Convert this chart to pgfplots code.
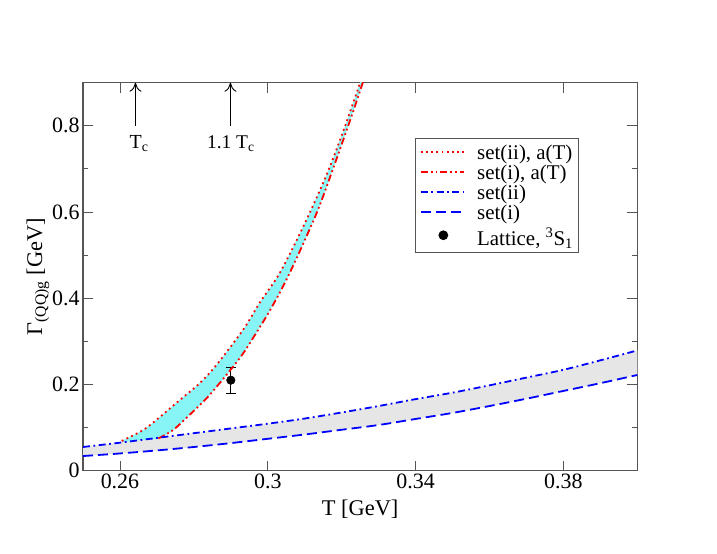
\documentclass[border=0pt]{standalone}
\usepackage{fontspec}
\setmainfont{Liberation Serif}
\usepackage{pgfplots}
\usepackage{pgfplotstable}
\pgfplotsset{compat=1.18}
\usepgfplotslibrary{fillbetween}
\usetikzlibrary{arrows.meta}
\definecolor{cyanfill}{RGB}{135,245,245}
\definecolor{grayfill}{RGB}{230,230,230}
\definecolor{axgray}{RGB}{85,85,85}
\newcommand{\st}{\rule[-5.5bp]{0pt}{21bp}}

\pgfplotstableread{
x y
0.2605 0.069
0.2663 0.0945
0.2710 0.126
0.2762 0.164
0.2816 0.203
0.2861 0.245
0.2933 0.3265
0.2980 0.392
0.3032 0.458
0.3096 0.566
0.3159 0.686
0.3204 0.787
0.3250 0.900
0.3260 0.925
}\upperred

\pgfplotstableread{
x y
0.2704 0.075
0.2744 0.0945
0.2789 0.130
0.2843 0.176
0.2924 0.261
0.2969 0.320
0.3010 0.378
0.3059 0.458
0.3130 0.593
0.3174 0.694
0.3231 0.833
0.3257 0.900
0.3267 0.925
}\lowerred

\pgfplotstableread{
x y
0.2605 0.066
0.2650 0.0705
0.2704 0.075
0.2744 0.0945
0.2789 0.130
0.2843 0.176
0.2924 0.261
0.2969 0.320
0.3010 0.378
0.3059 0.458
0.3130 0.593
0.3174 0.694
0.3231 0.833
0.3257 0.900
0.3267 0.925
}\lowerfill

\pgfplotstableread{
x y
0.25 0.055
0.26 0.065
0.27 0.076
0.28 0.087
0.29 0.098
0.30 0.109
0.31 0.121
0.32 0.135
0.33 0.150
0.34 0.166
0.35 0.181
0.36 0.198
0.37 0.216
0.38 0.234
0.39 0.256
0.40 0.279
}\setii

\pgfplotstableread{
x y
0.25 0.034
0.26 0.040
0.27 0.047
0.28 0.055
0.29 0.064
0.30 0.074
0.31 0.084
0.32 0.095
0.33 0.106
0.34 0.120
0.35 0.134
0.36 0.150
0.37 0.167
0.38 0.185
0.39 0.203
0.40 0.222
}\seti

\begin{document}
\begin{tikzpicture}
\begin{axis}[
  scale only axis,
  width=554.3bp, height=388bp,
  xmin=0.25, xmax=0.40, ymin=0, ymax=0.9,
  xtick={0.26,0.30,0.34,0.38},
  xticklabels={0.26,0.3,0.34,0.38},
  ytick={0,0.2,0.4,0.6,0.8},
  yticklabels={0,0.2,0.4,0.6,0.8},
  minor ytick={0.1,0.3,0.5,0.7,0.9},
  tick align=inside,
  major tick length=10bp, minor tick length=5bp,
  every tick/.style={axgray, line width=0.9bp},
  axis line style={axgray, line width=1.2bp},
  tick label style={font=\fontsize{22}{24}\selectfont},
  label style={font=\fontsize{22.5}{25}\selectfont},
  xlabel={T [GeV]},
  ylabel={Γ\textsubscript{(QQ)g} [GeV]},
  xlabel style={yshift=-4bp},
  ylabel style={yshift=-4bp},
  legend style={
    at={(0.5995,0.8582)}, anchor=north west,
    draw=axgray, line width=1.1bp,
    font=\fontsize{21}{23}\selectfont,
    inner xsep=4bp, inner ysep=4bp,
    row sep=0pt,
    nodes={inner sep=1.5bp},
  },
  legend cell align=left,
  legend image code/.code={\path (0bp,0bp) (54bp,0bp);\draw[#1] (0bp,0bp) -- (43bp,0bp);},
  clip=true,
]
\coordinate (ll) at (rel axis cs:0,0);

% invisible boundary paths
\addplot[draw=none, smooth, name path=RU, forget plot] table {\upperred};
\addplot[draw=none, smooth, name path=RL, forget plot] table {\lowerfill};
\addplot[draw=none, smooth, name path=BU, forget plot] table {\setii};
\addplot[draw=none, smooth, name path=BL, forget plot] table {\seti};

\addplot[fill=grayfill, draw=none, forget plot] fill between[of=BU and BL];
\addplot[fill=cyanfill, draw=none, forget plot] fill between[of=RU and RL];

% lattice point with error bar (no legend)
\addplot[black, only marks, mark=*, mark size=4.3bp, forget plot,
  error bars/.cd, y dir=both, y explicit,
  error bar style={line width=0.9bp, black},
  error mark options={rotate=90, mark size=5bp, line width=0.9bp, black},
  ] coordinates {(0.29,0.21) +- (0,0.03)};

% visible curves
\addplot[red, line width=1.8bp, smooth, dash pattern=on 1.8bp off 3.4bp] table {\upperred};
\addlegendentry{\st set(ii), a(T)}
\addplot[red, line width=1.8bp, smooth, dash pattern=on 7bp off 3bp on 1.8bp off 3bp on 1.8bp off 3bp] table {\lowerred};
\addlegendentry{\st set(i), a(T)}
\addplot[blue, line width=1.8bp, smooth, dash pattern=on 7bp off 3.5bp on 1.8bp off 3.5bp] table {\setii};
\addlegendentry{\st set(ii)}
\addplot[blue, line width=1.8bp, smooth, dash pattern=on 10bp off 5bp] table {\seti};
\addlegendentry{\st set(i)}
\addlegendimage{legend image code/.code={\path (0bp,0bp) (54bp,0bp);\fill[black] (22.6bp,0bp) circle (4.3bp);}}
\addlegendentry{\rule[-9.5bp]{0pt}{31bp}Lattice, \textsuperscript{3}S\textsubscript{1}}

% T_c arrows
\draw[line width=0.9bp, -{To[length=9bp,width=12bp]}] (axis cs:0.2642,0.80) -- (axis cs:0.2642,0.9);
\draw[line width=0.9bp, -{To[length=9bp,width=12bp]}] (axis cs:0.2899,0.80) -- (axis cs:0.2899,0.9);
\node[anchor=base, font=\fontsize{20}{22}\selectfont] at (axis cs:0.2652,0.748) {T\textsubscript{c}};
\node[anchor=base, font=\fontsize{19.5}{22}\selectfont] at (axis cs:0.2900,0.748) {1.1 T\textsubscript{c}};
\end{axis}
\pgfresetboundingbox
\path[use as bounding box] ([shift={(-83bp,-83.3bp)}]ll) rectangle ([shift={(634bp,470.7bp)}]ll);
\end{tikzpicture}
\end{document}
